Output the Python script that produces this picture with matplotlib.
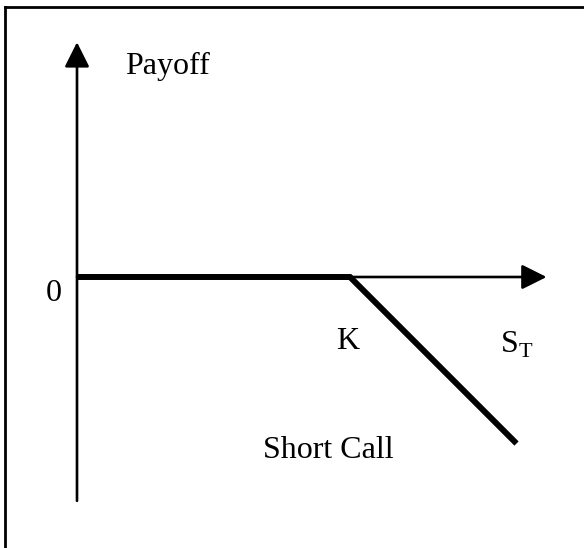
import matplotlib
matplotlib.use("Agg")
import matplotlib.pyplot as plt

# Data: short call payoff
stock_price = [0, 100, 161]
payoff = [0, 0, -61]
strike = 100
x_axis_end = 172
y_axis_top = 86
y_axis_bottom = -82

fig = plt.figure(figsize=(5.84, 5.48), dpi=100)
ax = fig.add_axes([0, 0, 1, 1])
pxu = 2.73
ax.set_xlim(-77 / pxu, (584 - 77) / pxu)
ax.set_ylim(-(548 - 277) / pxu, 277 / pxu)
ax.axis("off")

serif = ["Liberation Serif", "DejaVu Serif"]
fs = 23

# axes arrows
ax.annotate("", xy=(0, y_axis_top), xytext=(0, y_axis_bottom),
            arrowprops=dict(arrowstyle="-|>", color="black", lw=1.9,
                            mutation_scale=38, shrinkA=0, shrinkB=0))
ax.annotate("", xy=(x_axis_end, 0), xytext=(0, 0),
            arrowprops=dict(arrowstyle="-|>", color="black", lw=1.9,
                            mutation_scale=38, shrinkA=0, shrinkB=0))

# payoff line
ax.plot(stock_price, payoff, color="black", lw=4.3, solid_capstyle="butt",
        solid_joinstyle="miter")

# labels
ax.text(17.5, 77, "Payoff", family=serif, fontsize=fs, ha="left", va="center")
ax.text(-5.5, -6, "0", family=serif, fontsize=fs, ha="right", va="center")
ax.text(strike - 0.7, -23.5, "K", family=serif, fontsize=fs, ha="center", va="center")
ax.text(155, -25, r"S$_\mathregular{T}$", family=serif, fontsize=fs, ha="left", va="center")
ax.text(68, -63.4, "Short Call", family=serif, fontsize=fs, ha="left", va="center")

# partial frame (top and left)
fig.add_artist(plt.Line2D([5 / 584, 5 / 584], [0, 1 - 7 / 548], transform=fig.transFigure,
                          color="black", lw=2.0))
fig.add_artist(plt.Line2D([5 / 584, 1], [1 - 7 / 548, 1 - 7 / 548], transform=fig.transFigure,
                          color="black", lw=2.0))

fig.savefig("out.png", dpi=100)
